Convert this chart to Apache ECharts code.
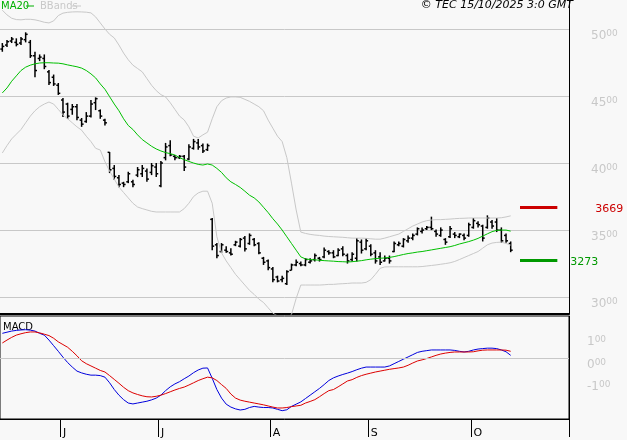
<!DOCTYPE html>
<html><head><meta charset="utf-8">
<script src="https://cdn.jsdelivr.net/npm/echarts@6/dist/echarts.min.js"></script>
<style>html,body{margin:0;padding:0;background:#f8f8f8}#c{width:627px;height:440px}</style>
</head><body><div id="c"></div>
<script>
// [open, close, low, high]
const ohlc = [
[4850,4870,4830,4895],[4880,4905,4866,4918],[4910,4925,4895,4940],[4900,4885,4870,4930],[4895,4925,4880,4940],
[4920,4960,4900,4975],[4900,4800,4784,4918],[4800,4690,4640,4830],[4780,4790,4760,4810],[4780,4720,4700,4810],
[4680,4600,4582,4694],[4640,4590,4575,4660],[4580,4520,4508,4597],[4470,4380,4343,4485],[4440,4350,4330,4450],
[4400,4420,4360,4440],[4420,4340,4320,4440],[4320,4290,4270,4336],[4310,4350,4300,4380],[4350,4440,4340,4470],
[4450,4480,4395,4490],[4390,4350,4330,4400],[4320,4300,4280,4330],[4080,3950,3925,4082],[3960,3900,3875,3985],
[3890,3840,3820,3910],[3850,3840,3820,3860],[3860,3920,3850,3935],[3860,3840,3820,3875],[3910,3950,3895,3970],
[3920,3960,3895,3985],[3940,3880,3860,3960],[3930,3980,3910,4000],[3970,3920,3895,4000],[3830,4000,3820,4015],
[4040,4120,4020,4150],[4130,4060,4050,4170],[4050,4040,4020,4060],[4040,4050,4030,4060],[4050,3970,3940,4060],
[4030,4120,4020,4140],[4110,4160,4100,4180],[4150,4120,4100,4180],[4130,4090,4075,4145],[4100,4130,4090,4145],
[3580,3380,3350,3590],[3390,3310,3290,3403],[3340,3390,3330,3403],[3350,3340,3330,3380],[3330,3320,3310,3365],
[3390,3410,3380,3420],[3380,3430,3370,3440],[3440,3360,3340,3455],[3400,3460,3390,3475],[3430,3390,3380,3440],
[3400,3330,3320,3410],[3290,3260,3240,3300],[3270,3220,3200,3280],[3210,3130,3110,3225],[3150,3120,3110,3160],
[3130,3140,3110,3160],[3100,3190,3090,3200],[3200,3240,3200,3250],[3240,3260,3230,3280],[3250,3240,3230,3265],
[3240,3280,3230,3290],[3260,3270,3250,3290],[3280,3310,3265,3325],[3290,3280,3265,3300],[3300,3350,3290,3370],
[3340,3330,3315,3350],[3330,3300,3290,3350],[3310,3350,3305,3365],[3360,3320,3305,3380],[3310,3270,3250,3325],
[3280,3320,3265,3335],[3290,3420,3265,3440],[3410,3350,3325,3430],[3360,3420,3350,3440],[3380,3320,3305,3395],
[3330,3270,3250,3350],[3300,3260,3240,3335],[3270,3290,3265,3310],[3290,3270,3250,3310],[3340,3400,3335,3415],
[3390,3400,3380,3415],[3380,3430,3370,3440],[3420,3440,3405,3460],[3440,3460,3425,3475],[3470,3510,3460,3520],
[3490,3500,3475,3520],[3510,3520,3500,3530],[3520,3510,3500,3600],[3490,3470,3450,3505],[3460,3500,3450,3520],
[3430,3410,3390,3440],[3450,3510,3440,3530],[3470,3460,3440,3485],[3450,3470,3440,3475],[3460,3440,3425,3475],
[3460,3540,3450,3555],[3520,3570,3510,3590],[3550,3540,3520,3565],[3530,3440,3415,3540],[3520,3590,3510,3610],
[3560,3530,3510,3575],[3560,3500,3485,3590],[3500,3420,3405,3520],[3460,3420,3405,3475],[3400,3350,3335,3415]
];
const ma20 = [4523,4560,4610,4650,4690,4715,4730,4740,4746,4748,4748,4746,4745,4740,4732,4725,4718,4708,4690,4665,
4635,4590,4550,4495,4440,4390,4330,4280,4250,4210,4175,4150,4125,4105,4090,4078,4070,4060,4040,4025,
4012,4000,3990,3985,3993,3985,3960,3930,3890,3860,3840,3818,3790,3760,3740,3710,3670,3630,3585,3545,
3500,3450,3400,3350,3300,3285,3280,3278,3275,3272,3270,3268,3265,3264,3262,3264,3268,3272,3278,3283,
3287,3290,3292,3296,3302,3310,3318,3325,3330,3336,3340,3346,3352,3358,3364,3370,3376,3385,3396,3405,
3414,3425,3438,3455,3472,3488,3498,3500,3500,3492];
const bbUpper = [5140,5105,5080,5070,5068,5072,5072,5068,5060,5050,5045,5060,5100,5118,5124,5127,5128,5127,5125,5120,
5090,5045,5000,4960,4933,4880,4820,4770,4730,4705,4680,4630,4580,4540,4510,4493,4450,4400,4350,4321,
4270,4200,4187,4210,4230,4330,4420,4465,4485,4493,4493,4490,4475,4460,4440,4420,4390,4320,4260,4200,
4160,4040,3850,3650,3485,3475,3468,3463,3460,3455,3452,3450,3448,3446,3443,3440,3440,3440,3438,3435,
3432,3432,3440,3450,3460,3470,3490,3510,3530,3545,3560,3570,3575,3578,3578,3580,3582,3585,3587,3588,
3590,3590,3590,3590,3590,3590,3590,3592,3598,3606];
const bbLower = [4075,4130,4180,4215,4250,4300,4350,4390,4420,4440,4455,4440,4400,4360,4330,4300,4270,4245,4200,4160,
4110,4097,4010,3940,3880,3821,3780,3740,3700,3672,3660,3650,3640,3635,3635,3635,3635,3635,3635,3660,
3700,3750,3777,3790,3790,3700,3450,3330,3270,3220,3170,3130,3090,3050,3020,2985,2960,2920,2880,2860,
2850,2850,2870,2990,3090,3090,3090,3090,3090,3092,3095,3095,3098,3100,3102,3105,3105,3105,3110,3130,
3170,3215,3225,3226,3226,3226,3226,3226,3226,3226,3228,3232,3236,3240,3245,3250,3256,3266,3280,3295,
3310,3325,3340,3365,3390,3403,3408,3410,3400,3388];
const macd = [110,115,120,123,125,126,124,120,110,102,80,55,30,4,-20,-40,-58,-66,-72,-76,
-76,-78,-85,-110,-140,-165,-185,-200,-204,-200,-196,-192,-186,-178,-165,-145,-128,-115,-105,-92,
-80,-65,-53,-45,-44,-90,-140,-178,-205,-218,-226,-231,-228,-220,-215,-218,-220,-220,-222,-228,
-234,-230,-215,-205,-195,-180,-165,-150,-135,-118,-100,-88,-80,-73,-67,-60,-52,-45,-40,-40,
-40,-40,-40,-35,-25,-15,-5,5,15,25,30,33,36,36,36,36,36,34,30,27,30,36,40,42,44,44,42,36,28,12];
const signal = [67,80,92,102,108,113,116,116,112,106,100,88,72,60,48,30,10,-12,-25,-35,
-45,-55,-62,-78,-95,-112,-130,-145,-155,-162,-168,-172,-173,-170,-165,-158,-150,-142,-135,-129,
-120,-110,-100,-92,-85,-88,-100,-118,-135,-160,-178,-187,-192,-196,-200,-204,-208,-213,-218,-222,
-222,-220,-216,-213,-210,-200,-193,-185,-172,-158,-145,-140,-128,-115,-102,-96,-86,-78,-72,-67,
-62,-58,-54,-50,-47,-44,-40,-32,-22,-13,-8,-2,5,12,18,22,25,27,27,27,27,28,32,35,36,36,36,36,35,30];
const resistance = 3669, support = 3273;
const priceTicks = [3000,3500,4000,4500,5000];
const macdTicks = [-100,0,100];
const monthLabels = {13:'J',34:'J',58:'A',79:'S',101:'O'};
const N = 122;
const cats = Array.from({length:N},(_,i)=>monthLabels[i]||'');
const levelLine = v => Array.from({length:N},(_,i)=> (i>=111&&i<=119)? v : null);

const chart = echarts.init(document.getElementById('c'));
const gray = '#c8c8c8';
const supFmt = v => { const s=String(Math.round(v/100)); return (v===0?'0':s)+'{s|00}'; };
chart.setOption({
  animation:false, backgroundColor:'#f8f8f8',
  textStyle:{fontFamily:'DejaVu Sans'},
  grid:[{left:0,top:0,width:569,height:314},{left:0,top:316,width:569,height:103,show:true,borderColor:'#000',borderWidth:1,backgroundColor:'transparent'}],
  xAxis:[
    {type:'category',data:cats,gridIndex:0,axisLine:{show:true,onZero:false,lineStyle:{color:'#000',width:2}},axisTick:{show:false},axisLabel:{show:false},splitLine:{show:false}},
    {type:'category',data:cats,gridIndex:1,axisLine:{show:true,onZero:false,lineStyle:{color:'#000'}},
     axisTick:{show:true,length:18,interval:(i,v)=>v!=='',lineStyle:{color:'#000'}},
     axisLabel:{show:true,interval:(i,v)=>v!=='',margin:9,align:'left',color:'#000',fontSize:11,fontFamily:'DejaVu Sans'}}
  ],
  yAxis:[
    {type:'value',gridIndex:0,position:'right',min:2874,max:5216,
     axisLine:{show:true,lineStyle:{color:'#000'}},axisTick:{show:false,customValues:priceTicks},
     splitLine:{show:true,lineStyle:{color:gray,width:1}},
     axisLabel:{customValues:priceTicks,margin:22,color:gray,fontSize:12,verticalAlign:'top',formatter:supFmt,
       rich:{s:{fontSize:9,color:gray,verticalAlign:'top',padding:[0,0,4,0]}}}},
    {type:'value',gridIndex:1,position:'right',min:-271,max:187,
     axisLine:{show:true,lineStyle:{color:'#000'}},axisTick:{show:false,customValues:macdTicks},
     splitLine:{show:false},
     axisLabel:{customValues:macdTicks,margin:18,color:gray,fontSize:12,verticalAlign:'top',formatter:supFmt,
       rich:{s:{fontSize:9,color:gray,verticalAlign:'top',padding:[0,0,4,0]}}}}
  ],
  series:[
    {type:'line',data:bbUpper,symbol:'none',clip:true,lineStyle:{color:gray,width:1}},
    {type:'line',data:bbLower,symbol:'none',clip:true,lineStyle:{color:gray,width:1}},
    {type:'line',data:ma20,symbol:'none',lineStyle:{color:'#00c000',width:1}},
    {type:'custom',data:ohlc.map((d,i)=>[i,...d]),encode:{x:0,y:[1,2,3,4]},
     renderItem:(params,api)=>{
       const i=api.value(0);
       const o=api.coord([i,api.value(1)]), c=api.coord([i,api.value(2)]);
       const l=api.coord([i,api.value(3)]), h=api.coord([i,api.value(4)]);
       const st={stroke:'#000',lineWidth:1.5};
       return {type:'group',children:[
         {type:'line',shape:{x1:h[0],y1:h[1],x2:l[0],y2:l[1]},style:st},
         {type:'line',shape:{x1:o[0]-2,y1:o[1],x2:o[0],y2:o[1]},style:st},
         {type:'line',shape:{x1:c[0],y1:c[1],x2:c[0]+2,y2:c[1]},style:st}]};
     }},
    {type:'line',data:levelLine(resistance),symbol:'none',lineStyle:{color:'#cc0000',width:3},
     endLabel:{show:true,formatter:String(resistance),color:'#cc0000',fontSize:11,offset:[30,2]}},
    {type:'line',data:levelLine(support),symbol:'none',lineStyle:{color:'#009900',width:3},
     endLabel:{show:true,formatter:String(support),color:'#009900',fontSize:11,offset:[5,2]}},
    {type:'line',xAxisIndex:1,yAxisIndex:1,data:macd,symbol:'none',lineStyle:{color:'#0000dd',width:1},
     markLine:{silent:true,symbol:'none',label:{show:false},lineStyle:{color:gray,type:'solid',width:1},data:[{yAxis:0}]}},
    {type:'line',xAxisIndex:1,yAxisIndex:1,data:signal,symbol:'none',lineStyle:{color:'#dd0000',width:1}}
  ],
  graphic:[
    {type:'text',left:1,top:1,style:{text:'MA20',fill:'#00b000',font:'10px DejaVu Sans'}},
    {type:'line',shape:{x1:26,y1:6,x2:34,y2:6},style:{stroke:'#00b000',lineWidth:1}},
    {type:'text',left:40,top:1,style:{text:'BBands',fill:gray,font:'10px DejaVu Sans'}},
    {type:'line',shape:{x1:72,y1:6,x2:81,y2:6},style:{stroke:gray,lineWidth:1}},
    {type:'text',right:54,top:0,style:{text:'© TEC 15/10/2025 3:0 GMT',fill:'#000',font:'italic 11px DejaVu Sans'}},
    {type:'text',left:3,top:322,style:{text:'MACD',fill:'#000',font:'10px DejaVu Sans'}}
  ]
});
</script></body></html>
